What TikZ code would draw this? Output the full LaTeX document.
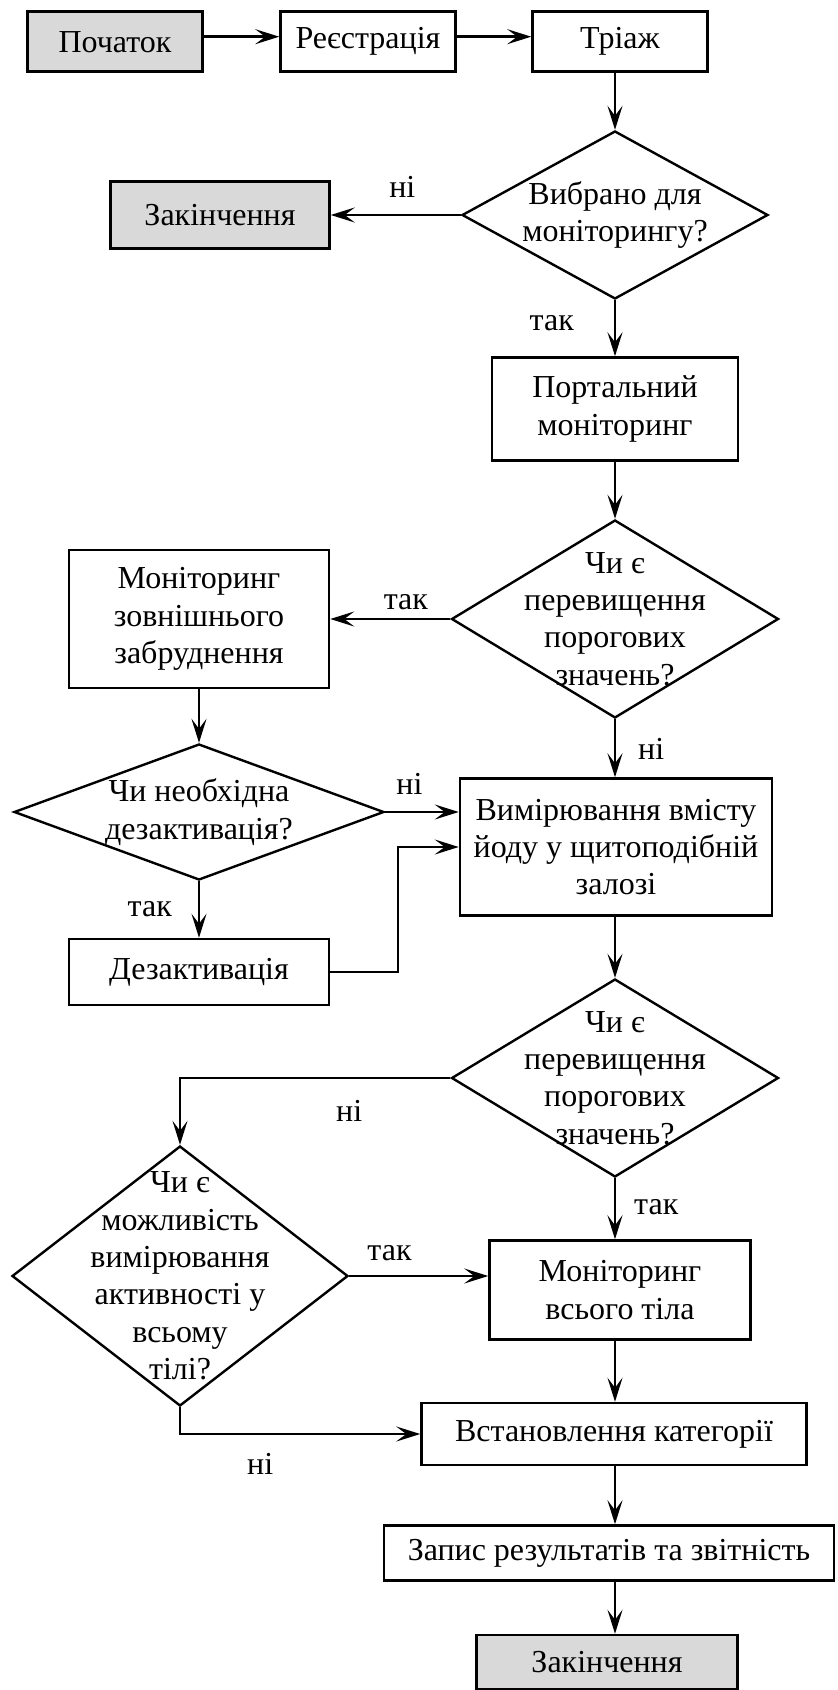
\documentclass[tikz,border=0pt]{standalone}
\usepackage{fontspec}
\setmainfont{Liberation Serif}
\usepackage{xcolor}
\usepackage{tikz}
\usetikzlibrary{arrows.meta,positioning,shapes.geometric,calc}
\definecolor{termgray}{HTML}{D9D9D9}

\begin{document}
\begin{tikzpicture}[
    x=0.5pt, y=-0.5pt,
    every node/.style={font=\fontsize{16}{18.7}\selectfont},
    box/.style={rectangle, draw, line width=1.25pt, align=center, inner sep=0pt},
    term/.style={box, fill=termgray},
    decision/.style={diamond, draw, line width=1.2pt, align=center, inner sep=-60pt},
    arrow/.style={-{Stealth[length=12pt, width=7.5pt, inset=5pt]}, line width=1.2pt},
    answer/.style={inner sep=0pt}
]
    \useasboundingbox (0,0) rectangle (837,1690);
    \coordinate (col) at (615,0);

    % Nodes
    \node[term, minimum width=87.5pt, minimum height=30pt] (start) at (115,41.7) {Початок};
    \node[box, minimum width=87.5pt, minimum height=30pt] (reg) at (368,41.7) {Реєстрація};
    \node[box, minimum width=87.5pt, minimum height=30pt] (triage) at (620,41.7) {Тріаж};
    \node[decision, minimum width=153pt, minimum height=84pt] (sel) at (615,215) {Вибрано для\\моніторингу?};
    \node[term, minimum width=109.5pt, minimum height=33.5pt] (end1) at (220,215) {Закінчення};
    \node[box, minimum width=123pt, minimum height=51.5pt] (portal) at (615,409) {Портальний\\моніторинг};
    \node[decision, minimum width=163.5pt, minimum height=99pt] (thr1) at (615,619) {Чи є\\перевищення\\порогових\\значень?};
    \node[box, minimum width=130pt, minimum height=69pt] (ext) at (199,619) {Моніторинг\\зовнішнього\\забруднення};
    \node[decision, minimum width=185pt, minimum height=68pt] (dec) at (199,812) {Чи необхідна\\дезактивація?};
    \node[box, minimum width=156pt, minimum height=68.5pt] (meas) at (616,847) {Вимірювання вмісту\\йоду у щитоподібній\\залозі};
    \node[box, minimum width=130pt, minimum height=33pt] (decon) at (199,972) {Дезактивація};
    \node[decision, minimum width=163.5pt, minimum height=99pt] (thr2) at (615,1078) {Чи є\\перевищення\\порогових\\значень?};
    \node[decision, minimum width=168pt, minimum height=130pt] (poss) at (180,1276) {Чи є\\можливість\\вимірювання\\активності у\\всьому\\тілі?};
    \node[box, minimum width=130.5pt, minimum height=49.5pt] (whole) at (620,1290) {Моніторинг\\всього тіла};
    \node[box, minimum width=192.5pt, minimum height=31pt] (cat) at (614,1434) {Встановлення категорії};
    \node[box, minimum width=225pt, minimum height=27.5pt] (rep) at (609,1553) {Запис результатів та звітність};
    \node[term, minimum width=130.5pt, minimum height=27pt] (end2) at (607,1662) {Закінчення};

    % Arrows
    \draw[arrow] ([yshift=2.5pt]start.east) -- ([yshift=2.5pt]reg.west);
    \draw[arrow] ([yshift=2.5pt]reg.east) -- ([yshift=2.5pt]triage.west);
    \draw[arrow] (triage.south -| col) -- (sel.north);
    \draw[arrow] (sel.west) -- node[answer, above=8pt, pos=0.45] {ні} (end1.east);
    \draw[arrow] (sel) -- node[answer, left=20pt, pos=0.41] {так} (portal);
    \draw[arrow] (portal) -- (thr1);
    \draw[arrow] (thr1.west) -- node[answer, above=4pt, pos=0.37] {так} (thr1.west -| ext.east);
    \draw[arrow] (ext) -- (dec);
    \draw[arrow] (thr1.south) -- node[answer, right=11pt, pos=0.51] {ні} (meas.north -| thr1.south);
    \draw[arrow] (dec.east) -- node[answer, above=8pt, pos=0.33] {ні} (dec.east -| meas.west);
    \draw[arrow] (dec) -- node[answer, left=13pt, pos=0.5] {так} (decon);
    \draw[arrow] (decon.east) -- ++(68,0) |- (meas.west);
    \draw[arrow] (meas.south -| col) -- (thr2.north);
    \draw[arrow] (thr2.west) -| node[answer, below=10.75pt, pos=0.187] {ні} (poss.north);
    \draw[arrow] (thr2.south) -- node[answer, right=9pt, pos=0.48] {так} (whole.north -| col);
    \draw[arrow] (poss.east) -- node[answer, above=7pt, pos=0.29] {так} (poss.east -| whole.west);
    \draw[arrow] (poss.south) |- node[answer, below=9pt, pos=0.667] {ні} (cat.west);
    \draw[arrow] (whole.south -| col) -- (cat.north -| col);
    \draw[arrow] (cat.south -| col) -- (rep.north -| col);
    \draw[arrow] (rep.south -| col) -- (end2.north -| col);
\end{tikzpicture}
\end{document}
